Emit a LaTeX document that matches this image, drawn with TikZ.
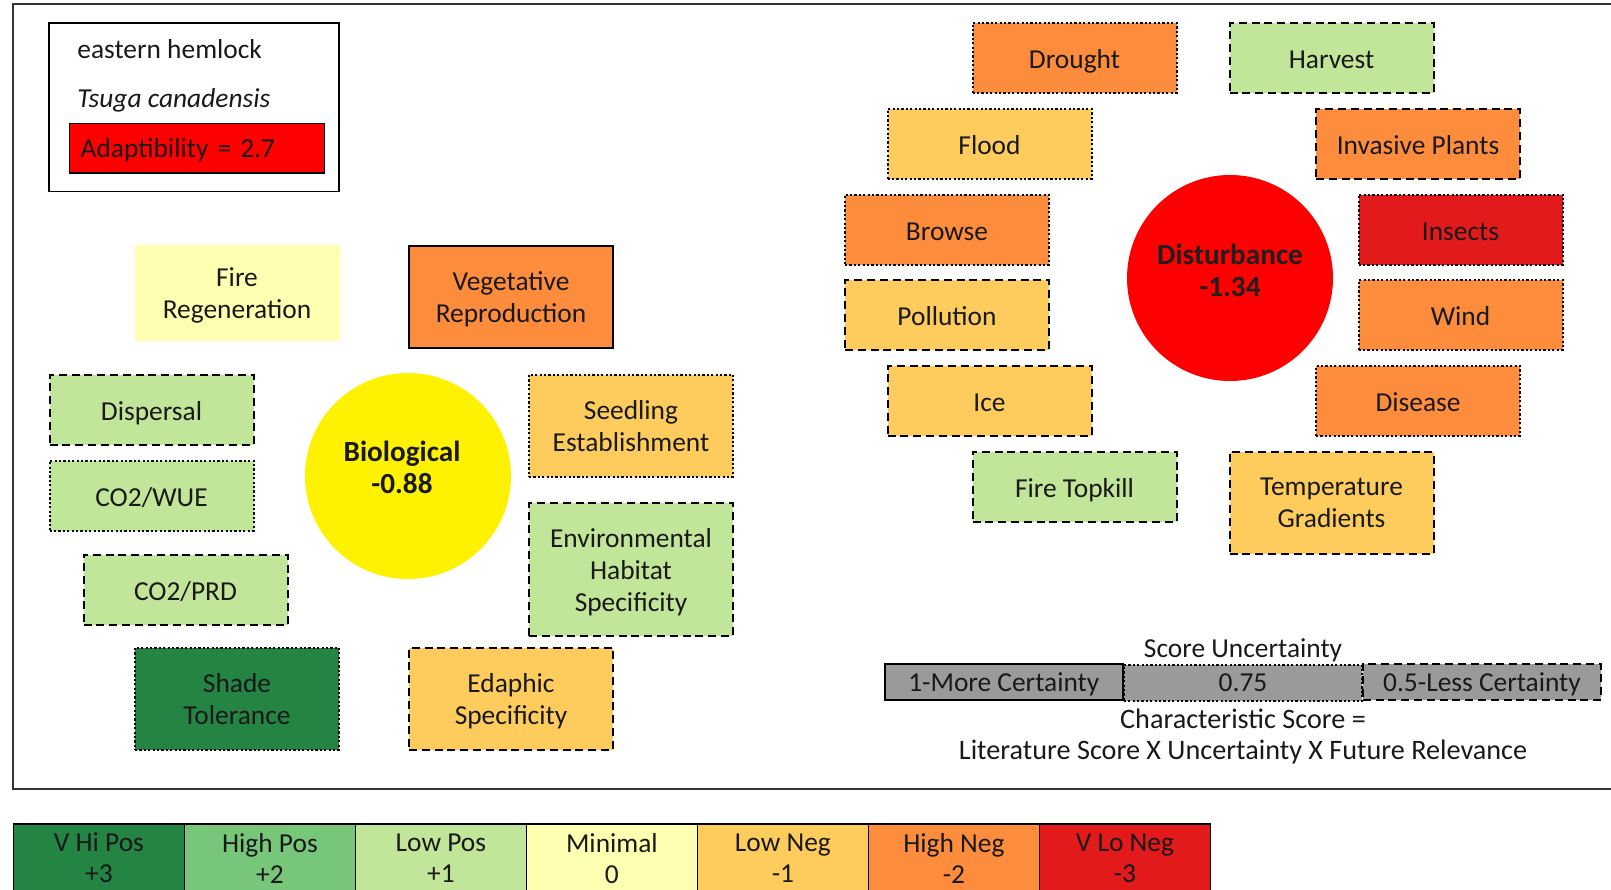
\documentclass[tikz,border=0pt]{standalone}
\usepackage{fontspec}
\setmainfont{Carlito}
\definecolor{vhipos}{HTML}{238443}
\definecolor{hipos}{HTML}{78C679}
\definecolor{lopos}{HTML}{C2E699}
\definecolor{minimal}{HTML}{FFFFB2}
\definecolor{loneg}{HTML}{FECC5C}
\definecolor{hineg}{HTML}{FD8D3C}
\definecolor{vloneg}{HTML}{E31A1C}
\definecolor{certgray}{HTML}{9A9A9A}
\begin{document}
\begin{tikzpicture}[
    x=0.5pt, y=-0.5pt,
    every node/.style={font=\fontsize{13.7}{16}\selectfont, align=center, text=black!90, text depth=0pt},
    box/.style={rectangle, minimum width=102pt, minimum height=35pt, inner sep=0pt, line width=1pt},
    oneline/.style={text height=10.5pt},
    dotbox/.style={box, draw, dash pattern=on 1.1pt off 1.1pt},
    dashbox/.style={box, draw, dash pattern=on 4pt off 2.4pt},
    solidbox/.style={box, draw, line width=1.4pt},
    tallbox/.style={minimum height=51pt},
    bigdot/.style={circle, minimum size=103pt, inner sep=0pt},
    headtxt/.style={font=\fontsize{14.6}{16}\selectfont\bfseries},
    certbox/.style={rectangle, fill=certgray, minimum width=119.2pt, minimum height=18pt, inner sep=0pt, line width=1pt},
    keybox/.style={rectangle, draw, line width=0.6pt, minimum width=85.5pt, minimum height=34pt, inner sep=0pt},
  ]
    \useasboundingbox (0,0) rectangle (1611,889);
    %% Outer frame (runs off the right edge)
    \draw[line width=0.8pt, black!80] (13,4) rectangle (1640,789);
    %% Species box
    \node[draw, line width=0.7pt, minimum width=145pt, minimum height=84.2pt, inner sep=0pt] (species) at (194,107) {};
    \node[anchor=west, inner sep=0pt] (common) at (77,49) {eastern hemlock};
    \node[anchor=west, inner sep=0pt] (latin) at (77,98) {\itshape Tsuga canadensis};
    \node[draw, fill=red, line width=0.7pt, anchor=west, minimum height=24.8pt,
      text width=116.5pt, inner xsep=5.5pt, inner ysep=0pt, align=left] (adapt) at (69,148) {Adaptibility = 2.7};

    %% Biological group
    \node[bigdot, fill=yellow] (bio) at (408,476) {};
    \node[headtxt] (biotxt) at ([xshift=-3pt, yshift=4.2pt]bio.center) {Biological\\-0.88};
    \node[box, fill=minimal, minimum width=102.5pt, minimum height=48pt] (firereg) at (237,293) {Fire\\Regeneration};
    \node[solidbox, tallbox, fill=hineg] (vegrep) at (511,297) {Vegetative\\Reproduction};
    \node[dashbox, oneline, fill=lopos] (dispersal) at (151.5,410) {Dispersal};
    \node[dotbox, oneline, fill=lopos] (co2wue) at (151.5,495.5) {CO2/WUE};
    \node[dashbox, oneline, fill=lopos] (co2prd) at (185.5,589.5) {CO2/PRD};
    \node[dotbox, tallbox, fill=vhipos] (shade) at (237,698.5) {Shade\\Tolerance};
    \node[dashbox, tallbox, fill=loneg] (edaphic) at (511,698.5) {Edaphic\\Specificity};
    \node[dotbox, tallbox, fill=loneg] (seedling) at (631,425.5) {Seedling\\Establishment};
    \node[dashbox, fill=lopos, minimum height=66.5pt] (envhab) at (631,569.5) {Environmental\\Habitat\\Specificity};

    %% Disturbance group
    \node[bigdot, fill=red] (dist) at (1230,278) {};
    \node[headtxt, text=black!88] (disttxt) at ([yshift=3.8pt]dist.center) {Disturbance\\-1.34};
    \node[dotbox, oneline, fill=hineg] (drought) at (1074.5,58) {Drought};
    \node[dashbox, oneline, fill=lopos] (harvest) at (1331.5,58) {Harvest};
    \node[dotbox, oneline, fill=loneg] (flood) at (989.5,144) {Flood};
    \node[dashbox, oneline, fill=hineg] (invasive) at (1418,144) {Invasive Plants};
    \node[dotbox, oneline, fill=hineg] (browse) at (947,229.5) {Browse};
    \node[dotbox, oneline, fill=vloneg] (insects) at (1460.5,229.5) {Insects};
    \node[dashbox, oneline, fill=loneg] (pollution) at (947,315) {Pollution};
    \node[dotbox, oneline, fill=hineg] (wind) at (1460.5,315) {Wind};
    \node[dashbox, oneline, fill=loneg] (ice) at (989.5,401) {Ice};
    \node[dotbox, oneline, fill=hineg] (disease) at (1418,401) {Disease};
    \node[dashbox, oneline, fill=lopos] (topkill) at (1074.5,486.5) {Fire Topkill};
    \node[dashbox, tallbox, fill=loneg] (tempgrad) at (1331.5,503) {Temperature\\Gradients};

    %% Score uncertainty key
    \node (certhead) at (1243,648) {Score Uncertainty};
    \node[certbox, draw] (cert1) at (1003.8,682) {1-More Certainty};
    \node[certbox, draw, dash pattern=on 1.1pt off 1.1pt] (cert2) at (1243,683) {0.75};
    \node[certbox, draw, dash pattern=on 4pt off 2.4pt] (cert3) at (1482,682) {0.5-Less Certainty};
    \node[font=\fontsize{14.1}{16}\selectfont] (formula) at (1243,734) {Characteristic Score =\\[-0.5pt]Literature Score X Uncertainty X Future Relevance};

    %% Colour key along the bottom
    \foreach \i/\lab/\val/\col in {0/V Hi Pos/+3/vhipos, 1/High Pos/+2/hipos, 2/Low Pos/+1/lopos,
        3/Minimal/0/minimal, 4/Low Neg/-1/loneg, 5/High Neg/-2/hineg, 6/V Lo Neg/-3/vloneg}
      \node[keybox, fill=\col] (key\i) at (98.9+171*\i,858) {\lab\\[-0.5pt]\val};
  \end{tikzpicture}
\end{document}
